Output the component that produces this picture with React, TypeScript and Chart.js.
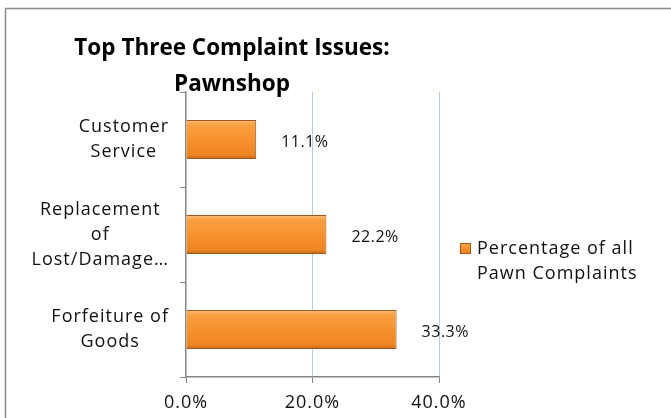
import React, { useEffect, useRef } from "react";
import { Chart, registerables } from "chart.js";

Chart.register(...registerables);

const categories: string[][] = [
  ["Customer", "Service"],
  ["Replacement", "of", "Lost/Damage…"],
  ["Forfeiture of", "Goods"],
];
const values: number[] = [11.1, 22.2, 33.3];
const xTickValues: number[] = [0, 20, 40];
const seriesName = "Percentage of all Pawn Complaints";
const legendLines: string[] = ["Percentage of all", "Pawn Complaints"];
const titleLines: string[] = ["Top Three Complaint Issues:", "Pawnshop"];

const FONT = "'Open Sans', 'Noto Sans', sans-serif";
const TEXT = "#111111";
const AXIS = "#868686";
const GRID = "#b7cbe6";

function barGradient(c: CanvasRenderingContext2D, top: number, bottom: number) {
  const g = c.createLinearGradient(0, top, 0, bottom);
  g.addColorStop(0, "#f7c68e");
  g.addColorStop(0.12, "#f9a145");
  g.addColorStop(0.5, "#f7922e");
  g.addColorStop(0.88, "#ee8622");
  g.addColorStop(1, "#c0661a");
  return g;
}

const decor = {
  id: "decor",
  beforeDraw(chart: any) {
    const c = chart.ctx as CanvasRenderingContext2D;
    c.save();
    c.fillStyle = "#ffffff";
    c.fillRect(0, 0, chart.width, chart.height);
    c.strokeStyle = "#8a8a8a";
    c.lineWidth = 1.5;
    c.beginPath();
    c.moveTo(5.5, chart.height + 5);
    c.lineTo(5.5, 8.5);
    c.lineTo(chart.width + 5, 8.5);
    c.stroke();
    c.restore();
    (c as any).letterSpacing = "1px";
  },
  afterDraw(chart: any) {
    const c = chart.ctx as CanvasRenderingContext2D;
    const yScale = chart.scales.y;
    const meta = chart.getDatasetMeta(0);
    c.save();
    // Title
    (c as any).letterSpacing = "0px";
    c.fillStyle = "#000000";
    c.textAlign = "center";
    c.textBaseline = "middle";
    c.font = `bold 22.5px ${FONT}`;
    titleLines.forEach((t, i) => c.fillText(t, 232, 49 + i * 36));

    // Category labels
    c.font = `18px ${FONT}`;
    (c as any).letterSpacing = "1px";
    c.fillStyle = TEXT;
    categories.forEach((lines, i) => {
      const yc = yScale.getPixelForValue(i);
      const w = Math.max(...lines.map((l) => c.measureText(l).width));
      const cx = 169 - w / 2;
      const lh = 25;
      const y0 = yc - ((lines.length - 1) * lh) / 2;
      lines.forEach((l, j) => c.fillText(l, cx, y0 + j * lh));
    });

    // Data labels
    c.textAlign = "left";
    c.font = `16px ${FONT}`;
    (c as any).letterSpacing = "0.5px";
    meta.data.forEach((bar: any, i: number) => {
      c.fillText(values[i].toFixed(1) + "%", bar.x + 25, bar.y + 3);
    });

    // Legend
    const sx = 460, sy = 243, ss = 11;
    c.fillStyle = barGradient(c, sy, sy + ss);
    c.fillRect(sx, sy, ss, ss);
    c.strokeStyle = "#a0581c";
    c.lineWidth = 1;
    c.strokeRect(sx + 0.5, sy + 0.5, ss - 1, ss - 1);
    c.fillStyle = TEXT;
    c.font = `18px ${FONT}`;
    (c as any).letterSpacing = "1px";
    legendLines.forEach((l, i) => c.fillText(l, 477, 249 + i * 25));
    c.restore();
  },
};

export default function App() {
  const ref = useRef<HTMLCanvasElement | null>(null);
  useEffect(() => {
    if (!ref.current) return;
    const chart = new Chart(ref.current, {
      type: "bar",
      data: {
        labels: categories.map((l) => l.join(" ")),
        datasets: [
          {
            label: seriesName,
            data: values,
            barPercentage: 0.41,
            categoryPercentage: 1,
            borderColor: "#9e561b",
            borderWidth: 1,
            backgroundColor: (ctx: any) => {
              const ch = ctx.chart;
              if (!ch.chartArea || ctx.dataIndex === undefined) return "#f7922e";
              const yc = ch.scales.y.getPixelForValue(ctx.dataIndex);
              return barGradient(ch.ctx, yc - 20, yc + 20);
            },
          },
        ],
      },
      options: {
        indexAxis: "y",
        responsive: false,
        animation: false,
        layout: { padding: { left: 0, top: 92, right: 232, bottom: 0 } },
        plugins: {
          legend: { display: false },
          title: { display: false },
          tooltip: { enabled: false },
        },
        scales: {
          x: {
            min: 0,
            max: 40,
            afterBuildTicks: (s: any) => {
              s.ticks = xTickValues.map((v) => ({ value: v }));
            },
            afterFit: (s: any) => {
              s.height = 41;
            },
            ticks: {
              callback: (v: any) => Number(v).toFixed(1) + "%",
              color: TEXT,
              font: { family: FONT, size: 18 },
              padding: 9,
              maxRotation: 0,
            },
            grid: {
              color: (ctx: any) => (ctx.tick && ctx.tick.value === 0 ? "rgba(0,0,0,0)" : GRID),
              tickColor: AXIS,
              tickLength: 6,
            },
            border: { color: AXIS, width: 1.5 },
          },
          y: {
            type: "category",
            offset: true,
            afterFit: (s: any) => {
              s.width = 186;
            },
            ticks: { display: false },
            grid: {
              offset: true,
              drawOnChartArea: false,
              tickColor: AXIS,
              tickLength: 6,
            },
            border: { color: AXIS, width: 1.5 },
          },
        },
      },
      plugins: [decor],
    } as any);
    return () => chart.destroy();
  }, []);
  return (
    <div style={{ position: "absolute", left: 0, top: 0, width: 671, height: 418 }}>
      <canvas ref={ref} width={671} height={418} style={{ display: "block" }} />
    </div>
  );
}
